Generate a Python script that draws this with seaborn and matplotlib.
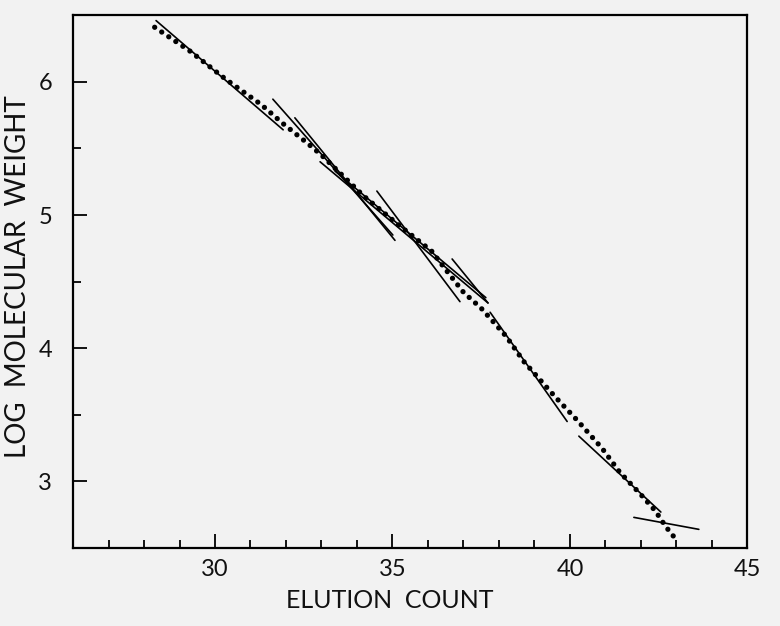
import numpy as np
import pandas as pd
import matplotlib
matplotlib.use('Agg')
import matplotlib.pyplot as plt
from matplotlib.ticker import MultipleLocator
import seaborn as sns

# calibration curve (dotted)
curve_x = [28.3, 29.3, 30.3, 31.3, 31.9, 32.6, 33.0, 34.2, 35.2, 36.1, 36.5, 37.0,
           37.5, 38.2, 38.7, 39.6, 40.2, 40.9, 41.4, 42.0, 42.4, 42.7, 43.0]
curve_y = [6.41, 6.23, 6.02, 5.83, 5.69, 5.54, 5.45, 5.14, 4.92, 4.73, 4.59, 4.42,
           4.30, 4.09, 3.90, 3.63, 3.46, 3.25, 3.07, 2.90, 2.78, 2.66, 2.56]

# tangent segments: start / end points
seg_x0 = [28.34, 31.63, 32.25, 32.96, 33.38, 34.56, 36.68, 37.75, 40.25, 41.80]
seg_y0 = [6.46, 5.87, 5.73, 5.40, 5.33, 5.18, 4.67, 4.27, 3.34, 2.73]
seg_x1 = [31.92, 35.01, 35.07, 37.69, 37.63, 36.90, 37.69, 39.92, 42.56, 43.63]
seg_y1 = [5.64, 4.85, 4.81, 4.34, 4.38, 4.35, 4.34, 3.45, 2.77, 2.64]

x_ticks = [30, 35, 40, 45]
y_ticks = [3, 4, 5, 6]

sns.set_theme(style='white')
plt.rcParams['font.family'] = ['Lato', 'DejaVu Sans']
bg = '#f2f2f2'

fig = plt.figure(figsize=(7.8, 6.26), dpi=100, facecolor=bg)
ax = fig.add_axes([0.0936, 0.1246, 0.8647, 0.851])
ax.set_facecolor(bg)

curve = pd.DataFrame({'count': curve_x, 'logmw': curve_y})
sns.lineplot(data=curve, x='count', y='logmw', sort=False, ax=ax, color='black',
             linewidth=3.8, linestyle=(0, (0.01, 1.6)), dash_capstyle='round')

rows = []
for i in range(len(seg_x0)):
    rows.append({'seg': i, 'count': seg_x0[i], 'logmw': seg_y0[i]})
    rows.append({'seg': i, 'count': seg_x1[i], 'logmw': seg_y1[i]})
segs = pd.DataFrame(rows)
sns.lineplot(data=segs, x='count', y='logmw', units='seg', estimator=None, sort=False,
             ax=ax, color='black', linewidth=1.2)

ax.set_xlim(26, 45)
ax.set_ylim(2.5, 6.5)
ax.set_xticks(x_ticks)
ax.set_yticks(y_ticks)
ax.xaxis.set_minor_locator(MultipleLocator(1))
ax.yaxis.set_minor_locator(MultipleLocator(0.5))
ax.tick_params(which='both', direction='in', bottom=True, left=True, top=False, right=False,
               color='black', width=1.3, labelsize=17, labelcolor='#111111')
ax.tick_params(which='major', length=10)
ax.tick_params(which='minor', length=6)
ax.tick_params(axis='x', which='major', pad=8)
ax.tick_params(axis='y', which='major', pad=15)
for s in ax.spines.values():
    s.set_color('black')
    s.set_linewidth(1.6)

ax.set_xlabel('ELUTION  COUNT', fontsize=18, color='#111111')
ax.set_ylabel('LOG  MOLECULAR  WEIGHT', fontsize=20, color='#111111')
ax.xaxis.set_label_coords(0.469, -0.077)
ax.yaxis.set_label_coords(-0.062, 0.51)

plt.savefig('out.png', dpi=100, facecolor=bg)
